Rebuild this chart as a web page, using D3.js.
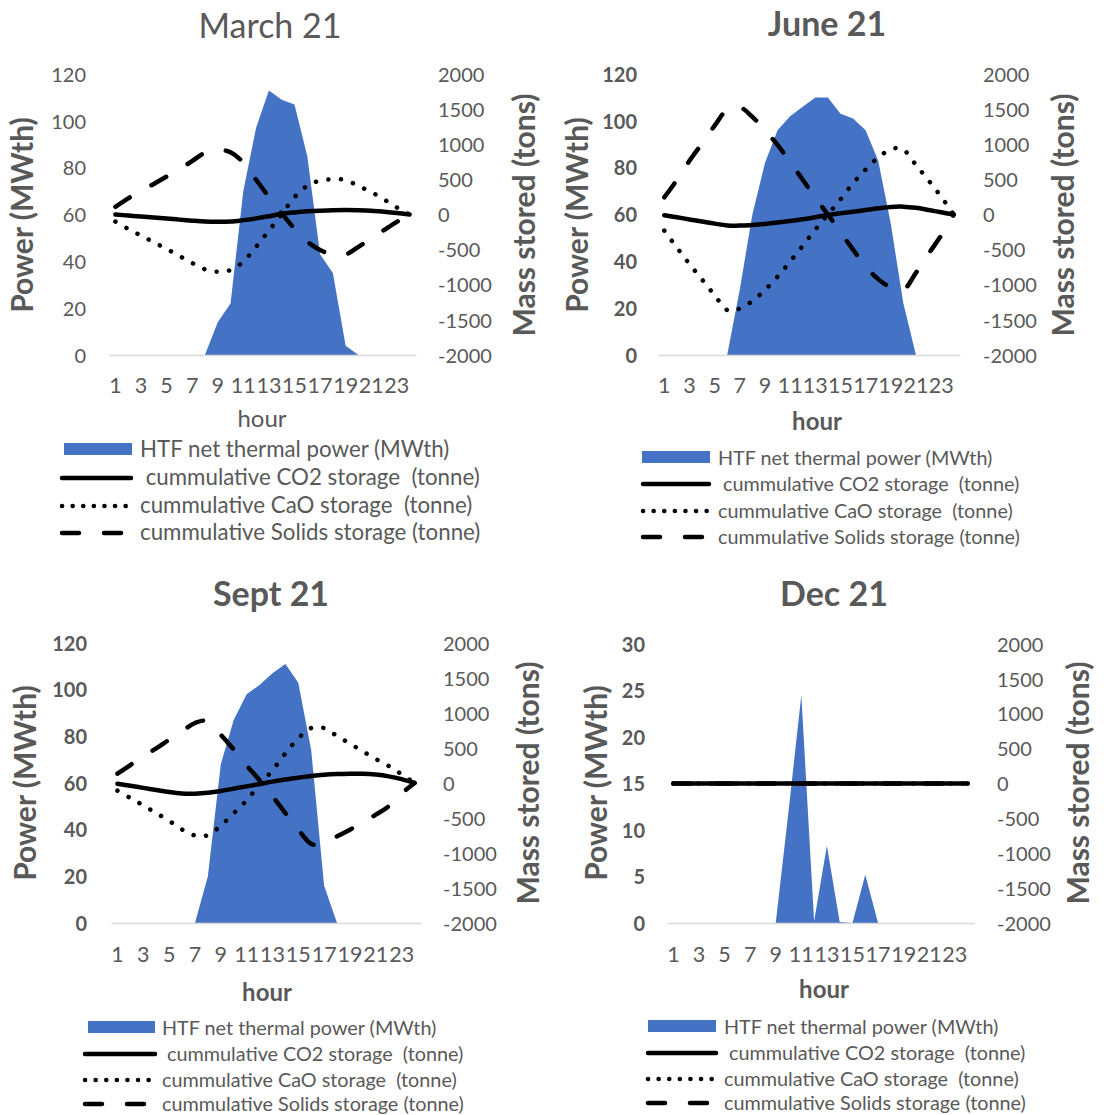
<!DOCTYPE html>
<html>
<head>
<meta charset="utf-8">
<script src="https://cdn.jsdelivr.net/npm/d3@7"></script>
<style>
  body { margin: 0; background: #fff; }
  svg text { font-family: Lato, "Open Sans", sans-serif; fill: #595959; }
</style>
</head>
<body>
<svg id="chart" width="1107" height="1115"></svg>
<script>
// categories
const hours = [1,2,3,4,5,6,7,8,9,10,11,12,13,14,15,16,17,18,19,20,21,22,23,24];
const hourTicks = [1,3,5,7,9,11,13,15,17,19,21,23];
const powerTicks = [0,20,40,60,80,100,120];
const powerTicksDec = [0,5,10,15,20,25,30];
const massTicks = [-2000,-1500,-1000,-500,0,500,1000,1500,2000];
const seriesNames = [
  "HTF net thermal power (MWth)",
  " cummulative CO2 storage  (tonne)",
  "cummulative CaO storage  (tonne)",
  "cummulative Solids storage (tonne)"
];

// March 21
const marchPower  = [0,0,0,0,0,0,0,0,14,22,70,97,113,109,107,85,43,35,4,0,0,0,0,0];
const marchCO2    = [0,-15,-29,-44,-58,-73,-88,-100,-103,-100,-80,-55,-25,10,30,45,55,62,64,62,55,40,22,0];
const marchCaO    = [-100,-205,-300,-395,-490,-590,-690,-780,-815,-790,-670,-460,-230,5,245,410,482,500,490,405,320,215,100,0];
const marchSolids = [110,230,335,435,540,645,760,880,920,885,740,495,250,15,-200,-385,-505,-570,-570,-460,-340,-222,-105,0];

// June 21
const junePower  = [0,0,0,0,0,0,28,60,82,96,102,106,110,110,103,101,96,83,56,22,0,0,0,0];
const juneCO2    = [-10,-40,-70,-100,-130,-155,-158,-150,-135,-115,-92,-69,-40,-7,17,40,64,88,108,112,95,64,32,0];
const juneCaO    = [-230,-470,-705,-925,-1150,-1360,-1340,-1230,-1075,-885,-670,-445,-215,0,215,445,640,810,928,925,705,486,254,0];
const juneSolids = [245,490,765,1010,1265,1500,1530,1390,1200,990,745,495,240,0,-250,-500,-745,-920,-1040,-1080,-830,-560,-300,0];

// Sept 21
const septPower  = [0,0,0,0,0,0,0,20,68,87,98,102,107,111,103,74,16,0,0,0,0,0,0,0];
const septCO2    = [-10,-40,-70,-100,-130,-150,-152,-140,-115,-80,-48,-15,20,50,75,100,118,128,132,133,120,95,55,0];
const septCaO    = [-110,-215,-320,-430,-540,-665,-750,-745,-610,-433,-248,-24,181,424,638,785,785,671,562,452,343,243,124,0];
const septSolids = [133,257,381,495,619,738,857,880,690,480,250,40,-190,-429,-667,-870,-850,-762,-667,-562,-452,-333,-150,0];

// Dec 21
const decPower  = [0,0,0,0,0,0,0,0,0,12,24.5,0.2,8.3,0.1,0,5.2,0,0,0,0,0,0,0,0];
const decCO2    = [0,0,0,0,0,0,0,0,0,0,0,0,0,0,0,0,0,0,0,0,0,0,0,0];
const decCaO    = [0,0,0,0,0,0,0,0,0,0,0,0,0,0,0,0,0,0,0,0,0,0,0,0];
const decSolids = [0,0,0,0,0,0,0,0,0,0,0,0,0,0,0,0,0,0,0,0,0,0,0,0];

const BLUE = "#4472C4";
const lineStyles = [
  { width: 4.5, dash: null },
  { width: 4.5, dash: "0.1 12.5" },
  { width: 4.5, dash: "17 25" }
];

// layout of the four charts
const panels = [
  { title: "March 21", titleBold: false, tx: 270, ty: 38,
    x0: 109, x1: 416, y0: 74, y1: 355, leftTicks: powerTicks, leftMax: 120, leftBold: false,
    leftTickX: 86, rightTickX: 438, xTickY: 393, hourX: 262, hourY: 427, hourBold: false,
    powX: 33, massX: 535, axTitleY: 215,
    power: marchPower, lines: [marchCO2, marchCaO, marchSolids],
    lg: { rect: [64, 132], line: [60, 133], textX: 140, rows: [457, 485, 513, 540], size: 22.3 } },
  { title: "June 21", titleBold: true, tx: 827, ty: 36,
    x0: 658, x1: 960, y0: 74, y1: 355, leftTicks: powerTicks, leftMax: 120, leftBold: true,
    leftTickX: 637, rightTickX: 983, xTickY: 393, hourX: 817, hourY: 430, hourBold: true,
    powX: 588, massX: 1074, axTitleY: 215,
    power: junePower, lines: [juneCO2, juneCaO, juneSolids],
    lg: { rect: [642, 710], line: [641, 711], textX: 718, rows: [465, 491, 518, 544], size: 19.8 } },
  { title: "Sept 21", titleBold: true, tx: 271, ty: 606,
    x0: 111, x1: 421, y0: 643, y1: 923, leftTicks: powerTicks, leftMax: 120, leftBold: true,
    leftTickX: 87, rightTickX: 443, xTickY: 962, hourX: 267, hourY: 1001, hourBold: true,
    powX: 36, massX: 539, axTitleY: 783,
    power: septPower, lines: [septCO2, septCaO, septSolids],
    lg: { rect: [88, 155], line: [83, 157], textX: 162, rows: [1035, 1061, 1087, 1111], size: 19.8 } },
  { title: "Dec 21", titleBold: true, tx: 834, ty: 606,
    x0: 667, x1: 974, y0: 644, y1: 923, leftTicks: powerTicksDec, leftMax: 30, leftBold: true,
    leftTickX: 645, rightTickX: 997, xTickY: 962, hourX: 824, hourY: 998, hourBold: true,
    powX: 607, massX: 1089, axTitleY: 783,
    power: decPower, lines: [decCO2, decCaO, decSolids],
    lg: { rect: [648, 716], line: [646, 718], textX: 724, rows: [1034, 1060, 1086, 1110], size: 19.8 } }
];

const svg = d3.select("#chart");
const fmt = d => String(d);

panels.forEach(p => {
  const g = svg.append("g");

  // Scales
  const x = d3.scaleBand().domain(hours).range([p.x0, p.x1]);
  const cx = h => x(h) + x.bandwidth() / 2;
  const yL = d3.scaleLinear().domain([0, p.leftMax]).range([p.y1, p.y0]);
  const yR = d3.scaleLinear().domain([-2000, 2000]).range([p.y1, p.y0]);

  // Power area
  const area = d3.area()
    .x((d, i) => cx(hours[i]))
    .y0(yL(0))
    .y1(d => yL(d));
  g.append("path")
    .datum(p.power)
    .attr("fill", BLUE)
    .attr("d", area);

  // Category axis
  const xAxis = g.append("g")
    .attr("transform", `translate(0,${p.y1})`)
    .call(d3.axisBottom(x).tickValues(hourTicks).tickSize(0).tickSizeOuter(0)
      .tickPadding(p.xTickY - p.y1 - 15.3));
  xAxis.attr("font-family", null).attr("font-size", 21.5).attr("color", "#595959");
  xAxis.select(".domain").attr("stroke", "#D9D9D9").attr("stroke-width", 1.5);

  // Left axis
  const lAxis = g.append("g")
    .attr("transform", `translate(${p.x0},0)`)
    .call(d3.axisLeft(yL).tickValues(p.leftTicks).tickSize(0).tickFormat(fmt)
      .tickPadding(p.x0 - p.leftTickX));
  lAxis.attr("font-family", null).attr("font-size", 20).attr("color", "#595959")
    .attr("font-weight", p.leftBold ? "bold" : "normal");
  lAxis.select(".domain").remove();
  lAxis.selectAll("text").attr("dy", "0.36em");

  // Right axis
  const rAxis = g.append("g")
    .attr("transform", `translate(${p.x1},0)`)
    .call(d3.axisRight(yR).tickValues(massTicks).tickSize(0).tickFormat(fmt)
      .tickPadding(p.rightTickX - p.x1));
  rAxis.attr("font-family", null).attr("font-size", 20).attr("color", "#595959");
  rAxis.select(".domain").remove();
  rAxis.selectAll("text").attr("dy", "0.36em");

  // Storage lines
  const line = d3.line()
    .x((d, i) => cx(hours[i]))
    .y(d => yR(d))
    .curve(d3.curveCardinal.tension(0));
  p.lines.forEach((vals, k) => {
    const st = lineStyles[k];
    g.append("path")
      .datum(vals)
      .attr("fill", "none")
      .attr("stroke", "#000")
      .attr("stroke-width", st.width)
      .attr("stroke-linecap", "round")
      .attr("stroke-linejoin", "round")
      .attr("stroke-dasharray", st.dash)
      .attr("d", line);
  });

  // Titles
  g.append("text")
    .attr("x", p.tx).attr("y", p.ty)
    .attr("text-anchor", "middle")
    .attr("font-size", 34)
    .attr("font-weight", p.titleBold ? "bold" : "normal")
    .text(p.title);
  g.append("text")
    .attr("x", p.hourX).attr("y", p.hourY)
    .attr("text-anchor", "middle")
    .attr("font-size", 24)
    .attr("font-weight", p.hourBold ? "bold" : "normal")
    .text("hour");
  g.append("text")
    .attr("transform", `translate(${p.powX},${p.axTitleY}) rotate(-90)`)
    .attr("text-anchor", "middle")
    .attr("font-size", 30)
    .attr("font-weight", "bold")
    .text("Power (MWth)");
  g.append("text")
    .attr("transform", `translate(${p.massX},${p.axTitleY}) rotate(-90)`)
    .attr("text-anchor", "middle")
    .attr("font-size", 30)
    .attr("font-weight", "bold")
    .text("Mass stored (tons)");

  // Legend
  const lg = g.append("g");
  const L = p.lg;
  lg.append("rect")
    .attr("x", L.rect[0]).attr("y", L.rows[0] - 14)
    .attr("width", L.rect[1] - L.rect[0]).attr("height", 12)
    .attr("fill", BLUE);
  lineStyles.forEach((st, k) => {
    const yy = L.rows[k + 1] - 7;
    lg.append("line")
      .attr("x1", L.line[0] + 2).attr("x2", L.line[1] - 2)
      .attr("y1", yy).attr("y2", yy)
      .attr("stroke", "#000")
      .attr("stroke-width", st.width)
      .attr("stroke-linecap", "round")
      .attr("stroke-dasharray", k === 1 ? "0.1 10.5" : st.dash);
  });
  seriesNames.forEach((name, k) => {
    lg.append("text")
      .attr("x", L.textX).attr("y", L.rows[k])
      .attr("font-size", L.size)
      .style("white-space", "pre")
      .text(name);
  });
});
</script>
</body>
</html>
